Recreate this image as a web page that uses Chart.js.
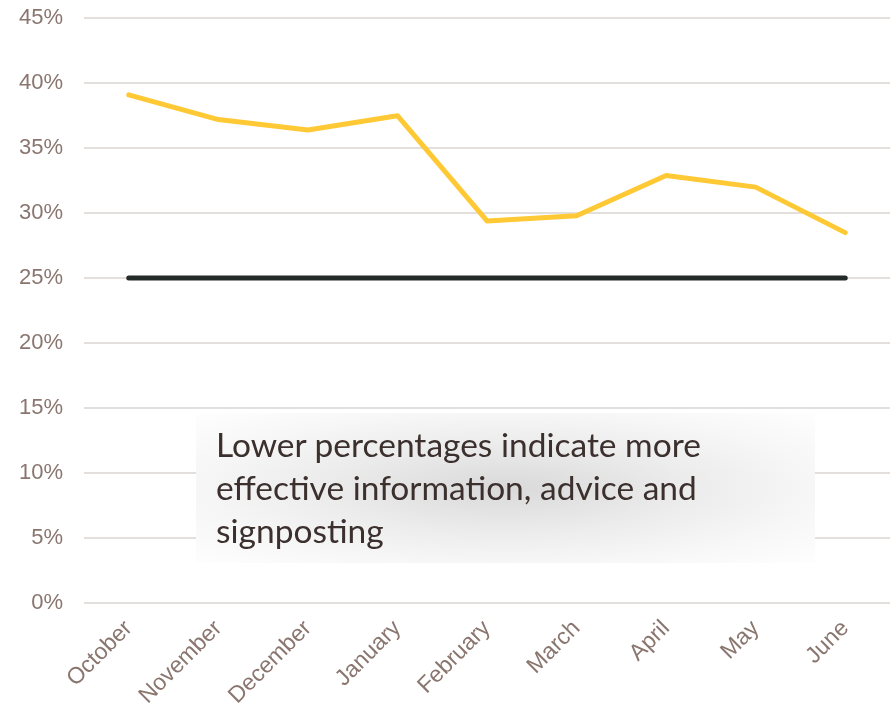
<!DOCTYPE html>
<html>
<head>
<meta charset="utf-8">
<script src="https://cdn.jsdelivr.net/npm/chart.js@4/dist/chart.umd.min.js"></script>
<style>
  html, body { margin: 0; padding: 0; background: #fff; overflow: hidden; }
  #wrap { position: relative; width: 890px; height: 711px; overflow: hidden; }
  #chart { position: absolute; left: 0; top: -16px; }
  #note {
    position: absolute; left: 196px; top: 413px; width: 619px; height: 150px;
    box-sizing: border-box; padding: 10px 0 0 20px;
    background: radial-gradient(ellipse farthest-corner at 50% 50%, #d9d9d9 0%, #ececec 42%, #f7f7f7 72%, #fefefe 100%);
    font-family: Lato, "Open Sans", sans-serif; font-size: 33.5px; line-height: 43px;
    color: #3b302d;
  }
</style>
</head>
<body>
<div id="wrap">
  <canvas id="chart" width="890" height="727"></canvas>
  <div id="note">Lower percentages indicate more<br>effective information, advice and<br>signposting</div>
</div>
<script>
// data
const months   = ["October", "November", "December", "January", "February", "March", "April", "May", "June"];
const rate     = [39.1, 37.2, 36.4, 37.5, 29.4, 29.8, 32.9, 32.0, 28.5];
const target   = [25, 25, 25, 25, 25, 25, 25, 25, 25];
const yTicks   = [0, 5, 10, 15, 20, 25, 30, 35, 40, 45];

const LABEL = "#8a766f";
const FONT  = "'Liberation Sans', Arial, sans-serif";

new Chart(document.getElementById("chart"), {
  type: "line",
  data: {
    labels: months,
    datasets: [
      { data: rate, borderColor: "#ffc935", borderWidth: 5, pointRadius: 0, tension: 0,
        borderCapStyle: "round", borderJoinStyle: "round" },
      { data: target, borderColor: "#242a28", borderWidth: 5, pointRadius: 0,
        borderCapStyle: "round" },
    ],
  },
  options: {
    responsive: false,
    animation: false,
    layout: { padding: 0 },
    plugins: { legend: { display: false }, tooltip: { enabled: false } },
    scales: {
      x: {
        offset: true,
        grid: { display: false },
        border: { display: false },
        ticks: {
          color: LABEL, font: { family: FONT, size: 23 },
          minRotation: 45, maxRotation: 45, padding: 4,
        },
        afterFit: s => { s.height = 108; },
      },
      y: {
        min: 0, max: 45,
        afterBuildTicks: s => { s.ticks = yTicks.map(v => ({ value: v })); },
        grid: { color: "#e3dfdc", lineWidth: 2, drawTicks: false },
        border: { display: false },
        ticks: {
          color: LABEL, font: { family: FONT, size: 22 },
          padding: 21, callback: v => v + "%",
        },
        afterFit: s => { s.width = 84; },
      },
    },
  },
});
</script>
</body>
</html>
